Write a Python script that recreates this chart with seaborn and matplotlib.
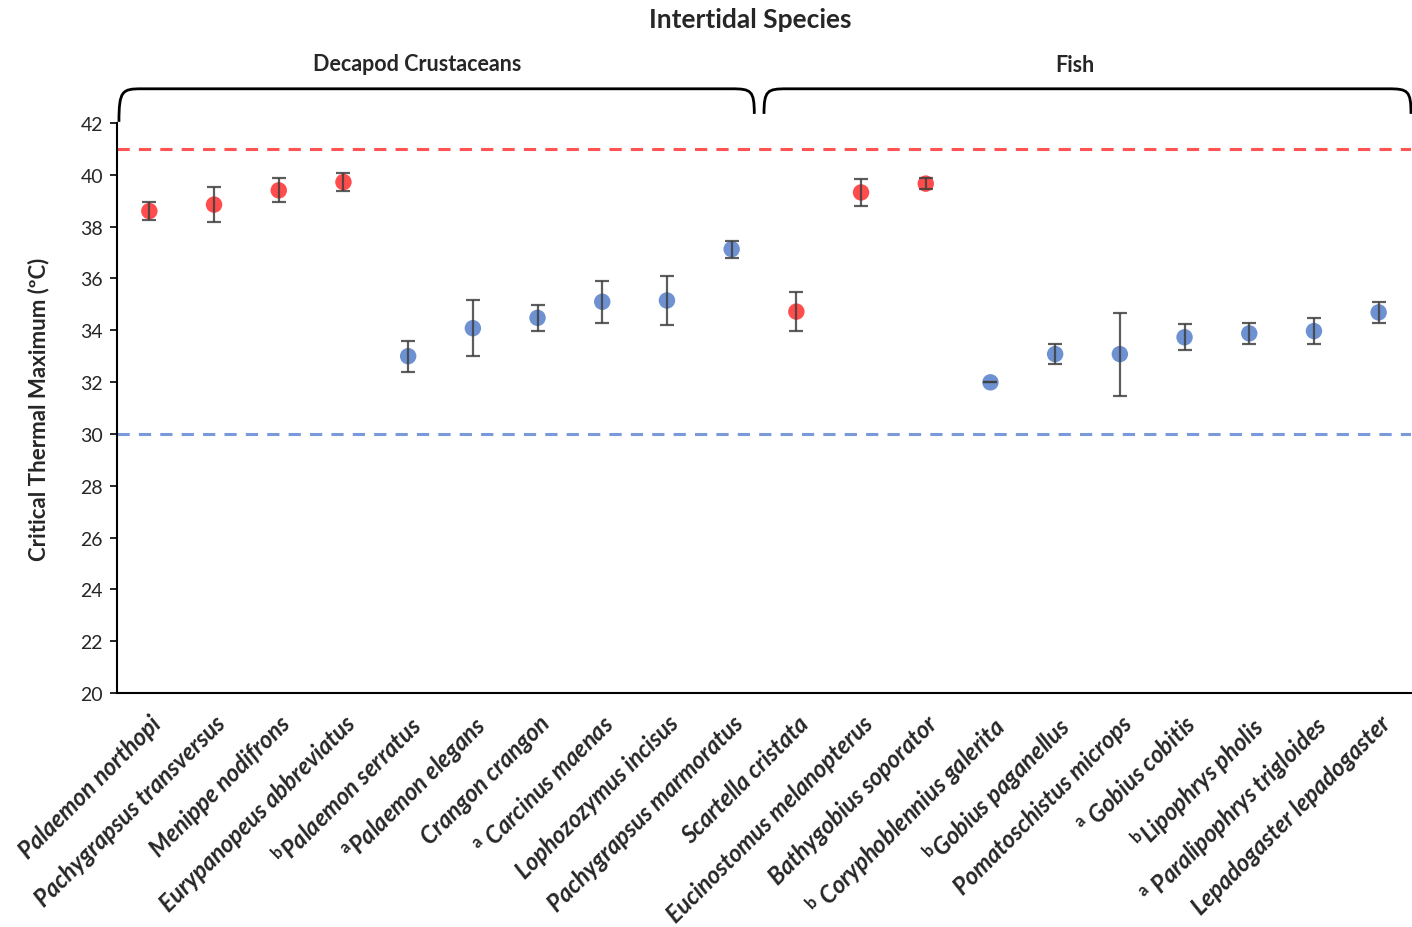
import numpy as np
import pandas as pd
import matplotlib
matplotlib.use("Agg")
import matplotlib.pyplot as plt
import seaborn as sns
from matplotlib.path import Path
from matplotlib.patches import PathPatch
import matplotlib.transforms as mtransforms

species = [
    "Palaemon northopi", "Pachygrapsus transversus", "Menippe nodifrons",
    "Eurypanopeus abbreviatus", "$^{\\mathrm{b}}$Palaemon serratus", "$^{\\mathrm{a}}$Palaemon elegans",
    "Crangon crangon", "$^{\\mathrm{a}}$ Carcinus maenas", "Lophozozymus incisus",
    "Pachygrapsus marmoratus", "Scartella cristata", "Eucinostomus melanopterus",
    "Bathygobius soporator", "$^{\\mathrm{b}}$ Coryphoblennius galerita", "$^{\\mathrm{b}}$Gobius paganellus",
    "Pomatoschistus microps", "$^{\\mathrm{a}}$ Gobius cobitis", "$^{\\mathrm{b}}$Lipophrys pholis",
    "$^{\\mathrm{a}}$ Paralipophrys trigloides", "Lepadogaster lepadogaster",
]
ctmax = [38.6, 38.85, 39.4, 39.72, 33.0, 34.08, 34.48, 35.1, 35.15, 37.13,
         34.72, 39.32, 39.66, 31.99, 33.08, 33.08, 33.73, 33.88, 33.97, 34.69]
err = [0.35, 0.68, 0.46, 0.36, 0.6, 1.07, 0.5, 0.81, 0.93, 0.33,
       0.74, 0.53, 0.22, 0.0, 0.4, 1.6, 0.5, 0.41, 0.5, 0.4]
group = ["high", "high", "high", "high", "low", "low", "low", "low", "low", "low",
         "high", "high", "high", "low", "low", "low", "low", "low", "low", "low"]
taxon = ["Decapod Crustaceans"] * 10 + ["Fish"] * 10
upper_line = 41.0
lower_line = 30.0
yticks = list(range(20, 43, 2))

df = pd.DataFrame({"species": species, "ctmax": ctmax, "err": err,
                   "group": group, "taxon": taxon})
df["pos"] = np.arange(len(df))

sns.set_theme(style="white")
plt.rcParams["font.family"] = ["Lato", "Noto Sans", "DejaVu Sans"]
plt.rcParams["mathtext.fontset"] = "custom"
plt.rcParams["mathtext.rm"] = "Lato:bold"
plt.rcParams["mathtext.it"] = "Lato:bold:italic"
plt.rcParams["mathtext.bf"] = "Lato:bold"

fig = plt.figure(figsize=(14.12, 9.28), dpi=100)
ax = fig.add_axes([117 / 1412, 1 - 694 / 928, 1294 / 1412, 570 / 928])

palette = {"high": "#FF1A1A", "low": "#4472C4"}
sns.scatterplot(data=df, x="pos", y="ctmax", hue="group", palette=palette,
                s=140, alpha=0.78, edgecolor="none", legend=False, ax=ax, zorder=2)
ax.errorbar(df["pos"], df["ctmax"], yerr=df["err"], fmt="none",
            ecolor="#404040", elinewidth=1.6, capsize=5, capthick=1.6,
            alpha=0.85, zorder=3)

ax.axhline(upper_line, color="#FF4040", ls=(0, (4, 3)), lw=2.2, alpha=0.9, zorder=1)
ax.axhline(lower_line, color="#6A8ED6", ls=(0, (4, 3)), lw=2.2, alpha=0.9, zorder=1)

ax.set_xlim(-0.5, len(df) - 0.5)
ax.set_ylim(20, 42)
ax.set_yticks(yticks)
ax.set_yticklabels([str(t) for t in yticks], fontsize=14)
ax.set_xticks(df["pos"])
ax.set_xticklabels(df["species"], rotation=45, ha="right", rotation_mode="anchor",
                   fontsize=17, fontweight="bold", fontstyle="italic")
ax.set_xticks(np.arange(-0.5, len(df) - 0.4, 1), minor=True)
ax.tick_params(axis="x", which="major", length=0, pad=13)
ax.tick_params(axis="x", which="minor", length=6, width=1.2, color="black", direction="out")
ax.tick_params(axis="y", length=5, width=1.2, color="black", direction="out", left=True, pad=5)
ax.set_xlabel("")
ax.set_ylabel("Critical Thermal Maximum (ºC)", fontsize=16, fontweight="bold", labelpad=22)

for side in ["top", "right"]:
    ax.spines[side].set_visible(False)
for side in ["left", "bottom"]:
    ax.spines[side].set_color("black")
    ax.spines[side].set_linewidth(1.5)

# group braces
trans = mtransforms.blended_transform_factory(ax.transData, ax.transAxes)
def brace(x0, x1, yb0, yb1, yt):
    dx = 0.35
    verts = [(x0, yb0), (x0, yt - 0.003), (x0 + 0.05, yt), (x0 + dx, yt),
             (x1 - dx, yt), (x1 - 0.05, yt), (x1, yt - 0.003), (x1, yb1)]
    codes = [Path.MOVETO, Path.CURVE4, Path.CURVE4, Path.CURVE4,
             Path.LINETO, Path.CURVE4, Path.CURVE4, Path.CURVE4]
    ax.add_patch(PathPatch(Path(verts, codes), fill=False, lw=2.0, color="black",
                           transform=trans, clip_on=False))

brace(-0.47, 9.35, 1.002, 1.016, 1.06)
brace(9.5, 19.5, 1.016, 1.016, 1.06)

ax.text(4.14, 1.105, "Decapod Crustaceans", transform=trans, ha="center", va="center",
        fontsize=15.5, fontweight="bold")
ax.text(14.3, 1.102, "Fish", transform=trans, ha="center", va="center",
        fontsize=15.5, fontweight="bold")
fig.text(750 / 1412, 1 - 20 / 928, "Intertidal Species", ha="center", va="center",
         fontsize=19, fontweight="bold")

fig.savefig("out.png", dpi=100)
